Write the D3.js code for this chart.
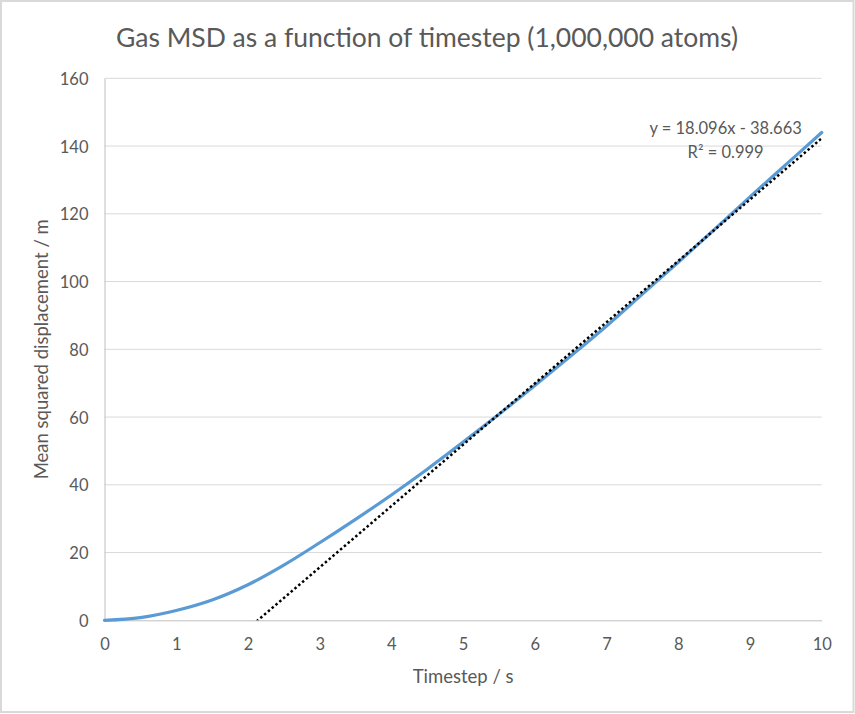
<!DOCTYPE html>
<html>
<head>
<meta charset="utf-8">
<script src="https://cdn.jsdelivr.net/npm/d3@7"></script>
<style>
  body { margin: 0; background: #fff; }
  text { font-family: Lato, "Open Sans", sans-serif; fill: #595959; }
</style>
</head>
<body>
<div id="chart"></div>
<script>
// data
var timestep = [0, 0.5, 1, 1.5, 2, 2.5, 3, 3.5, 4, 4.5, 5, 5.5, 6, 6.5, 7, 7.5, 8, 8.5, 9, 9.5, 10];
var msd = [0, 0.8, 2.9, 6.0, 10.5, 16.3, 22.9, 29.8, 37.0, 44.6, 52.6, 60.8, 69.3, 78.0, 86.9, 96.3, 105.7, 115.3, 125.0, 134.5, 144.0];
// linear trendline as printed on the chart
var fitSlope = 18.096, fitIntercept = -38.663, fitR2 = 0.999;
var xTicks = [0, 1, 2, 3, 4, 5, 6, 7, 8, 9, 10];
var yTicks = [0, 20, 40, 60, 80, 100, 120, 140, 160];

var W = 855, H = 714;
var margin = {top: 78.3, right: 855 - 821.7, bottom: 714 - 620.3, left: 104.5},
    width = W - margin.left - margin.right,
    height = H - margin.top - margin.bottom;

var svg = d3.select("#chart").append("svg")
    .attr("width", W)
    .attr("height", H);

// chart border
svg.append("rect")
  .attr("x", 1).attr("y", 1)
  .attr("width", W - 2.5).attr("height", H - 3)
  .attr("fill", "#fff")
  .attr("stroke", "#d9d9d9")
  .attr("stroke-width", 2);

var g = svg.append("g")
  .attr("transform", "translate(" + margin.left + "," + margin.top + ")");

var x = d3.scaleLinear().domain([0, 10]).range([0, width]);
var y = d3.scaleLinear().domain([0, 160]).range([height, 0]);

// gridlines
g.append("g")
  .selectAll("line")
  .data(yTicks.filter(function(d) { return d > 0; }))
  .enter().append("line")
    .attr("x1", 0).attr("x2", width)
    .attr("y1", function(d) { return y(d); })
    .attr("y2", function(d) { return y(d); })
    .attr("stroke", "#d9d9d9")
    .attr("stroke-width", 1);

// axes
var xAxis = g.append("g")
  .attr("transform", "translate(0," + height + ")")
  .call(d3.axisBottom(x).tickValues(xTicks).tickSize(0).tickPadding(18));
var yAxis = g.append("g")
  .call(d3.axisLeft(y).tickValues(yTicks).tickSize(0).tickPadding(16));

[xAxis, yAxis].forEach(function(a) {
  a.select(".domain").attr("stroke", "#bfbfbf").attr("stroke-width", 1);
  a.selectAll("text")
    .style("font-family", "Lato, 'Open Sans', sans-serif")
    .style("font-size", "16.5px")
    .attr("fill", "#595959");
});
xAxis.selectAll("text").attr("dy", "0.71em");
yAxis.selectAll("text").attr("dy", "0.36em");

// clip to plot area
g.append("clipPath").attr("id", "clip")
  .append("rect").attr("width", width).attr("height", height);

// data curve
var line = d3.line()
  .x(function(d, i) { return x(timestep[i]); })
  .y(function(d) { return y(d); })
  .curve(d3.curveCatmullRom.alpha(0.5));

g.append("path")
  .datum(msd)
  .attr("fill", "none")
  .attr("stroke", "#5b9bd5")
  .attr("stroke-width", 3.2)
  .attr("stroke-linecap", "round")
  .attr("d", line);

// trendline
var xr = d3.extent(timestep);
g.append("path")
  .datum(xr)
  .attr("clip-path", "url(#clip)")
  .attr("fill", "none")
  .attr("stroke", "#000")
  .attr("stroke-width", 2.5)
  .attr("stroke-dasharray", "2.5 2.5")
  .attr("d", d3.line()
    .x(function(d) { return x(d); })
    .y(function(d) { return y(fitSlope * d + fitIntercept); }));

// trendline label
var eq = g.append("text")
  .attr("x", x(8.66))
  .attr("y", y(143.5))
  .attr("text-anchor", "middle")
  .style("font-size", "16.5px");
eq.append("tspan").text("y = " + fitSlope.toFixed(3) + "x - " + Math.abs(fitIntercept).toFixed(3));
eq.append("tspan")
  .attr("x", x(8.66)).attr("dy", "1.42em")
  .text("R² = " + fitR2);

// titles
svg.append("text")
  .attr("x", 427).attr("y", 47)
  .attr("text-anchor", "middle")
  .style("font-size", "26.5px")
  .text("Gas MSD as a function of timestep (1,000,000 atoms)");

svg.append("text")
  .attr("x", margin.left + width / 2).attr("y", 683)
  .attr("text-anchor", "middle")
  .style("font-size", "18.5px")
  .text("Timestep / s");

svg.append("text")
  .attr("transform", "translate(48," + (margin.top + height / 2) + ") rotate(-90)")
  .attr("text-anchor", "middle")
  .style("font-size", "18.5px")
  .text("Mean squared displacement / m");
</script>
</body>
</html>
